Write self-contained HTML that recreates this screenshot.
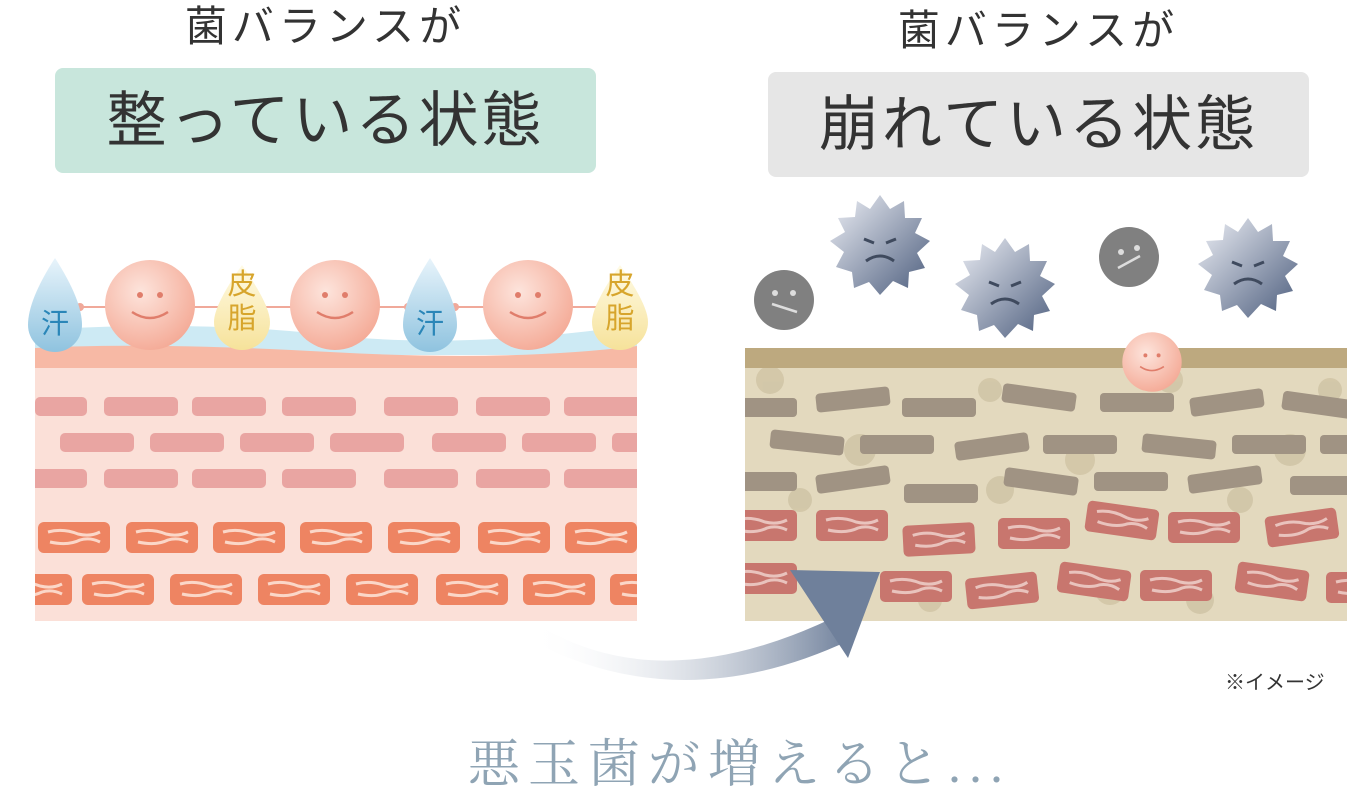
<!DOCTYPE html>
<html><head><meta charset="utf-8"><style>
body{margin:0;width:1369px;height:794px;background:#fff;overflow:hidden;position:relative;font-family:"Liberation Sans","Noto Sans CJK JP",sans-serif}
.t{position:absolute;color:#333;text-align:center}
</style></head><body>
<svg width="1369" height="794" style="position:absolute;left:0;top:0">
<defs>
<clipPath id="cl"><rect x="35" y="300" width="602" height="330"/></clipPath>
<clipPath id="cr"><rect x="745" y="300" width="602" height="330"/></clipPath>
<radialGradient id="ball" cx="0.4" cy="0.35" r="0.7"><stop offset="0" stop-color="#fde4dc"/><stop offset="1" stop-color="#f4a995"/></radialGradient>
<linearGradient id="blue" x1="0" y1="0" x2="0" y2="1"><stop offset="0" stop-color="#e8f4fb"/><stop offset="1" stop-color="#8fc3df"/></linearGradient>
<linearGradient id="yel" x1="0" y1="0" x2="0" y2="1"><stop offset="0" stop-color="#fffbe6"/><stop offset="1" stop-color="#f6e29a"/></linearGradient>
<linearGradient id="germ" x1="0" y1="0" x2="1" y2="1"><stop offset="0" stop-color="#eef0f6"/><stop offset="1" stop-color="#4c5d7d"/></linearGradient>
<linearGradient id="arr" x1="0" y1="0" x2="1" y2="0"><stop offset="0" stop-color="#fff" stop-opacity="0"/><stop offset="1" stop-color="#6f809b"/></linearGradient>
<g id="cell"><rect x="0" y="0" width="72" height="31" rx="6" fill="#ee8462"/><path d="M10 10 q15 -4 30 2 q12 3 22 -2 M12 20 q18 4 30 -2 q10 -3 20 2" stroke="#fbd7c8" stroke-width="3" fill="none"/></g>
<g id="rcell"><rect x="0" y="0" width="72" height="31" rx="5" fill="#c8766e"/><path d="M10 10 q15 -4 30 2 q12 3 22 -2 M12 20 q18 4 30 -2 q10 -3 20 2" stroke="#e9c3bd" stroke-width="3" fill="none"/></g>
<g id="star"><polygon points="0,-50 10,-36 24,-44 25,-27 42,-27 35,-12 50,-4 37,8 45,23 29,27 28,43 13,36 0,50 -11,37 -26,43 -28,27 -44,22 -36,7 -50,-4 -35,-13 -42,-27 -25,-28 -23,-44 -10,-36" fill="url(#germ)"/><path d="M-16 -6 l10 4 M16 -6 l-10 4 M-14 16 q14 -10 28 0" stroke="#3f4a5e" stroke-width="3" fill="none"/></g>
<g id="b1"><circle cx="150" cy="305" r="45" fill="url(#ball)"/><circle cx="140" cy="295" r="3" fill="#e07d6b"/><circle cx="160" cy="295" r="3" fill="#e07d6b"/><path d="M132 312 q18 12 36 0" stroke="#e07d6b" stroke-width="2.5" fill="none"/></g>
</defs>
<g clip-path="url(#cl)">
<rect x="35" y="360" width="602" height="261" fill="#fbe0d8"/>
<path d="M35 330 Q200 320 330 335 T637 325 L637 355 L35 355Z" fill="#cdeaf4"/>
<path d="M35 348 Q150 342 330 352 T637 346 L637 368 L35 368Z" fill="#f7b9a5"/>
<g fill="#e9a5a2">
<rect x="35" y="397" width="52" height="19" rx="5"/><rect x="104" y="397" width="74" height="19" rx="5"/><rect x="192" y="397" width="74" height="19" rx="5"/><rect x="282" y="397" width="74" height="19" rx="5"/><rect x="384" y="397" width="74" height="19" rx="5"/><rect x="476" y="397" width="74" height="19" rx="5"/><rect x="564" y="397" width="80" height="19" rx="5"/>
<rect x="60" y="433" width="74" height="19" rx="5"/><rect x="150" y="433" width="74" height="19" rx="5"/><rect x="240" y="433" width="74" height="19" rx="5"/><rect x="330" y="433" width="74" height="19" rx="5"/><rect x="432" y="433" width="74" height="19" rx="5"/><rect x="522" y="433" width="74" height="19" rx="5"/><rect x="612" y="433" width="40" height="19" rx="5"/>
<rect x="30" y="469" width="57" height="19" rx="5"/><rect x="104" y="469" width="74" height="19" rx="5"/><rect x="192" y="469" width="74" height="19" rx="5"/><rect x="282" y="469" width="74" height="19" rx="5"/><rect x="384" y="469" width="74" height="19" rx="5"/><rect x="476" y="469" width="74" height="19" rx="5"/><rect x="564" y="469" width="80" height="19" rx="5"/>
</g>
<use href="#cell" x="38" y="522"/><use href="#cell" x="126" y="522"/><use href="#cell" x="213" y="522"/><use href="#cell" x="300" y="522"/><use href="#cell" x="388" y="522"/><use href="#cell" x="478" y="522"/><use href="#cell" x="565" y="522"/>
<use href="#cell" x="0" y="574"/><use href="#cell" x="82" y="574"/><use href="#cell" x="170" y="574"/><use href="#cell" x="258" y="574"/><use href="#cell" x="346" y="574"/><use href="#cell" x="436" y="574"/><use href="#cell" x="523" y="574"/><use href="#cell" x="610" y="574"/>
</g>
<line x1="60" y1="307" x2="620" y2="307" stroke="#f0a99a" stroke-width="2"/>
<g fill="#f0a99a"><circle cx="80" cy="307" r="4"/><circle cx="222" cy="307" r="4"/><circle cx="262" cy="307" r="4"/><circle cx="408" cy="307" r="4"/><circle cx="455" cy="307" r="4"/><circle cx="600" cy="307" r="4"/></g>
<path d="M55 258 Q82 300 82 325 A27 27 0 0 1 28 325 Q28 300 55 258Z" fill="url(#blue)"/>
<path d="M430 258 Q457 300 457 325 A27 27 0 0 1 403 325 Q403 300 430 258Z" fill="url(#blue)"/>
<path d="M242 265 Q270 305 270 322 A28 28 0 0 1 214 322 Q214 305 242 265Z" fill="url(#yel)"/>
<path d="M620 265 Q648 305 648 322 A28 28 0 0 1 592 322 Q592 305 620 265Z" fill="url(#yel)"/>
<use href="#b1"/><use href="#b1" x="185"/><use href="#b1" x="378"/>
<g clip-path="url(#cr)">
<rect x="745" y="348" width="602" height="273" fill="#e3d9be"/>
<g fill="#cfc3a4" opacity="0.8">
<circle cx="770" cy="380" r="14"/><circle cx="860" cy="450" r="16"/><circle cx="990" cy="390" r="12"/><circle cx="1080" cy="460" r="15"/><circle cx="1170" cy="380" r="13"/><circle cx="1290" cy="450" r="16"/><circle cx="800" cy="500" r="12"/><circle cx="1000" cy="490" r="14"/><circle cx="1240" cy="500" r="13"/><circle cx="1110" cy="590" r="15"/><circle cx="930" cy="600" r="12"/><circle cx="1330" cy="390" r="12"/><circle cx="1200" cy="600" r="14"/></g>
<rect x="745" y="348" width="602" height="20" fill="#bda97f"/>
<g fill="#a09383">
<rect x="740" y="398" width="57" height="19" rx="4"/><rect x="816" y="390" width="74" height="19" rx="4" transform="rotate(-6 853 400)"/><rect x="902" y="398" width="74" height="19" rx="4"/><rect x="1002" y="388" width="74" height="19" rx="4" transform="rotate(8 1039 398)"/><rect x="1100" y="393" width="74" height="19" rx="4"/><rect x="1190" y="393" width="74" height="19" rx="4" transform="rotate(-8 1227 403)"/><rect x="1282" y="395" width="80" height="19" rx="4" transform="rotate(8 1315 405)"/>
<rect x="770" y="433" width="74" height="19" rx="4" transform="rotate(6 807 443)"/><rect x="860" y="435" width="74" height="19" rx="4"/><rect x="955" y="437" width="74" height="19" rx="4" transform="rotate(-8 992 447)"/><rect x="1043" y="435" width="74" height="19" rx="4"/><rect x="1142" y="437" width="74" height="19" rx="4" transform="rotate(6 1179 447)"/><rect x="1232" y="435" width="74" height="19" rx="4"/><rect x="1320" y="435" width="40" height="19" rx="4"/>
<rect x="740" y="472" width="57" height="19" rx="4"/><rect x="816" y="470" width="74" height="19" rx="4" transform="rotate(-8 853 480)"/><rect x="904" y="484" width="74" height="19" rx="4"/><rect x="1004" y="472" width="74" height="19" rx="4" transform="rotate(8 1041 482)"/><rect x="1094" y="472" width="74" height="19" rx="4"/><rect x="1188" y="470" width="74" height="19" rx="4" transform="rotate(-8 1225 480)"/><rect x="1290" y="476" width="70" height="19" rx="4"/>
</g>
<use href="#rcell" x="725" y="510"/><use href="#rcell" x="816" y="510"/><use href="#rcell" x="903" y="524" transform="rotate(-3 939 540)"/><use href="#rcell" x="998" y="518"/><use href="#rcell" x="1086" y="505" transform="rotate(8 1122 520)"/><use href="#rcell" x="1168" y="512"/><use href="#rcell" x="1266" y="512" transform="rotate(-8 1302 528)"/>
<use href="#rcell" x="725" y="563"/><use href="#rcell" x="880" y="571"/><use href="#rcell" x="966" y="575" transform="rotate(-6 1002 590)"/><use href="#rcell" x="1058" y="566" transform="rotate(8 1094 582)"/><use href="#rcell" x="1140" y="570"/><use href="#rcell" x="1236" y="566" transform="rotate(8 1272 582)"/><use href="#rcell" x="1326" y="572"/>
</g>
<g transform="translate(1152 362) scale(0.66)"><use href="#b1" x="-150" y="-305"/></g>
<use href="#star" transform="translate(880 245)"/>
<use href="#star" transform="translate(1005 288)"/>
<use href="#star" transform="translate(1248 268)"/>
<g><circle cx="784" cy="300" r="30" fill="#808080"/><circle cx="775" cy="293" r="3" fill="#ddd"/><circle cx="793" cy="293" r="3" fill="#ddd"/><line x1="772" y1="304" x2="797" y2="312" stroke="#ddd" stroke-width="2.5"/></g>
<g><circle cx="1129" cy="257" r="30" fill="#808080"/><circle cx="1121" cy="252" r="3" fill="#ddd"/><circle cx="1137" cy="248" r="3" fill="#ddd"/><line x1="1118" y1="268" x2="1140" y2="256" stroke="#ddd" stroke-width="2.5"/></g>
<path d="M530 620 Q660 705 845 612 L850 640 Q680 720 530 640Z" fill="url(#arr)"/>
<path d="M790 570 L880 572 L848 658Z" fill="#6f809b"/>
</svg>
<div class="t" style="left:55px;top:0;width:541px;font-size:42px;letter-spacing:5px;line-height:54px">菌バランスが</div>
<div class="t" style="left:55px;top:68px;width:541px;height:105px;background:#c8e6dc;border-radius:8px;font-size:60px;letter-spacing:3px;line-height:105px">整っている状態</div>
<div class="t" style="left:768px;top:4px;width:541px;font-size:42px;letter-spacing:5px;line-height:54px">菌バランスが</div>
<div class="t" style="left:768px;top:72px;width:541px;height:105px;background:#e6e6e6;border-radius:8px;font-size:60px;letter-spacing:3px;line-height:105px">崩れている状態</div>
<div class="t" style="left:25px;top:302px;width:60px;font-size:28px;color:#2a86b8">汗</div>
<div class="t" style="left:400px;top:302px;width:60px;font-size:28px;color:#2a86b8">汗</div>
<div class="t" style="left:222px;top:268px;width:40px;font-size:29px;line-height:34px;color:#d7a52c">皮<br>脂</div>
<div class="t" style="left:600px;top:268px;width:40px;font-size:29px;line-height:34px;color:#d7a52c">皮<br>脂</div>
<div class="t" style="left:1225px;top:666px;font-size:20px">※イメージ</div>
<div class="t" style="left:468px;top:722px;width:600px;font-size:52px;letter-spacing:8px;color:#8fa4b4;font-family:'Liberation Serif','Noto Serif CJK SC',serif;text-align:left;white-space:nowrap">悪玉菌が増えると...</div>
</body></html>
